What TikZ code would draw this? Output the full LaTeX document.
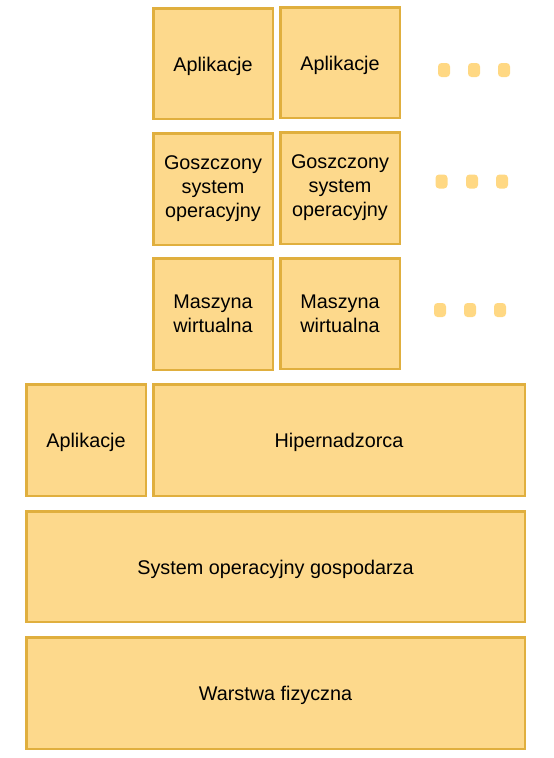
\documentclass[tikz,border=0pt]{standalone}
\usepackage{fontspec}
\setmainfont{Liberation Sans}
\definecolor{wypelnienie}{HTML}{FDD98C}
\definecolor{obrys}{HTML}{E0AF3E}
\definecolor{kropka}{HTML}{FFD883}
\tikzset{
  blok/.style={draw=obrys, fill=wypelnienie, line width=2.5pt, align=center,
    inner sep=0pt, font=\fontsize{19.8}{24}\selectfont,
    execute at begin node={\rule{0pt}{20pt}}},
  kropkabox/.style={fill=kropka, rounded corners=3.5pt, minimum width=12pt,
    minimum height=14pt, inner sep=0pt}
}
\begin{document}
\begin{tikzpicture}[x=1pt, y=-1pt]
  \useasboundingbox (0,0) rectangle (554,758);
  % Aplikacje gości
  \node[blok, minimum width=119.5pt, minimum height=110.5pt] (aplA) at (213,63.5) {Aplikacje};
  \node[blok, minimum width=119.5pt, minimum height=110.5pt] (aplB) at (340,62.5) {Aplikacje};
  % Goszczone systemy
  \node[blok, minimum width=119.5pt, minimum height=111.5pt] (gosA) at (213,189) {Goszczony\\system\\operacyjny};
  \node[blok, minimum width=119.5pt, minimum height=111.5pt] (gosB) at (340,188) {Goszczony\\system\\operacyjny};
  % Maszyny wirtualne
  \node[blok, minimum width=119.5pt, minimum height=111.5pt] (vmA) at (213,314) {Maszyna\\wirtualna};
  \node[blok, minimum width=119.5pt, minimum height=110.5pt] (vmB) at (340,313.5) {Maszyna\\wirtualna};
  % Hipernadzorca i aplikacja gospodarza
  \node[blok, minimum width=119.5pt, minimum height=111.5pt] (aplH) at (86,440) {Aplikacje};
  \node[blok, minimum width=371.5pt, minimum height=111.5pt] (hiper) at (339,440) {Hipernadzorca};
  % System gospodarza
  \node[blok, minimum width=498.5pt, minimum height=110.5pt] (host) at (275.5,566.5) {System operacyjny gospodarza};
  % Warstwa fizyczna
  \node[blok, minimum width=498.5pt, minimum height=111.5pt] (hw) at (275.5,693) {Warstwa fizyczna};
  % Kropki
  \foreach \x/\y [count=\i] in {444/70, 474/70, 504/70,
      441.5/181.5, 472/181.5, 502/181.5,
      440/310, 470/310, 500/310}
    \node[kropkabox] (k\i) at (\x,\y) {};
\end{tikzpicture}
\end{document}
